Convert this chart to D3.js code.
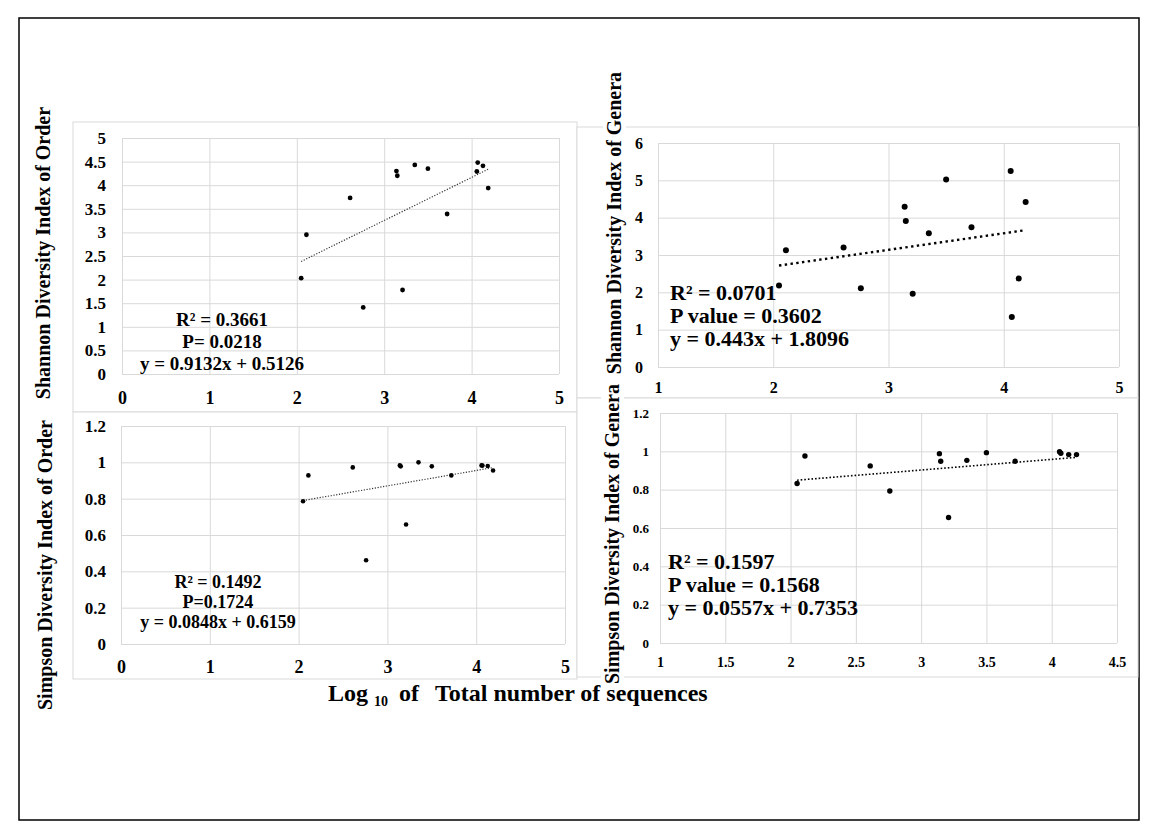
<!DOCTYPE html>
<html>
<head>
<meta charset="utf-8">
<style>
  body { margin: 0; background: #fff; }
  svg { display: block; font-family: "Liberation Serif", "Times New Roman", serif; }
  .grid line { stroke: #d9d9d9; stroke-width: 1; }
  .grid text { fill: #000; font-weight: bold; }
</style>
</head>
<body>
<div id="chart"></div>
<script src="https://d3js.org/d3.v7.min.js"></script>
<script>
// log10 of total number of sequences, one value per sample (shared by all four panels)
var logSeqs = [2.05, 2.11, 2.61, 2.76, 3.14, 3.15, 3.21, 3.35, 3.50, 3.72, 4.06, 4.07, 4.13, 4.19];

// diversity index of each sample, same order as logSeqs
var shannonOrder  = [2.03, 2.95, 3.73, 1.41, 4.30, 4.20, 1.78, 4.43, 4.35, 3.39, 4.29, 4.48, 4.41, 3.94];
var shannonGenera = [2.18, 3.13, 3.20, 2.11, 4.29, 3.91, 1.96, 3.58, 5.02, 3.74, 5.25, 1.34, 2.37, 4.42];
var simpsonOrder  = [0.786, 0.928, 0.972, 0.461, 0.983, 0.978, 0.658, 1.00, 0.978, 0.928, 0.983, 0.982, 0.980, 0.955];
var simpsonGenera = [0.832, 0.976, 0.924, 0.793, 0.988, 0.948, 0.655, 0.953, 0.993, 0.948, 0.998, 0.990, 0.983, 0.983];

// linear fits (slope, intercept) as printed on the chart
var fitSlopes     = [0.9132, 0.443, 0.0848, 0.0557];
var fitIntercepts = [0.5126, 1.8096, 0.6159, 0.7353];

var statsShannonOrder  = ["R\u00b2 = 0.3661", "P= 0.0218", "y = 0.9132x + 0.5126"];
var statsShannonGenera = ["R\u00b2 = 0.0701", "P value = 0.3602", "y = 0.443x + 1.8096"];
var statsSimpsonOrder  = ["R\u00b2 = 0.1492", "P=0.1724", "y = 0.0848x + 0.6159"];
var statsSimpsonGenera = ["R\u00b2 = 0.1597", "P value = 0.1568", "y = 0.0557x + 0.7353"];

// axis ticks
var xTicksA = [0, 1, 2, 3, 4, 5];
var xTicksB = [1, 2, 3, 4, 5];
var xTicksC = [1, 1.5, 2, 2.5, 3, 3.5, 4, 4.5];
var yTicksShannonOrder  = [0, 0.5, 1, 1.5, 2, 2.5, 3, 3.5, 4, 4.5, 5];
var yTicksShannonGenera = [0, 1, 2, 3, 4, 5, 6];
var yTicksSimpson       = [0, 0.2, 0.4, 0.6, 0.8, 1, 1.2];

var W = 1159, H = 838;

var svg = d3.select("#chart").append("svg")
    .attr("width", W)
    .attr("height", H);

svg.append("rect")
    .attr("x", 19).attr("y", 18)
    .attr("width", 1120).attr("height", 802)
    .attr("fill", "none").attr("stroke", "#000").attr("stroke-width", 1.5);

var panels = [
  { ys: shannonOrder, fit: 0, stats: statsShannonOrder, title: "Shannon Diversity Index of Order",
    box: [73, 122, 504, 290], plot: [122, 559, 138, 374],
    xDom: [0, 5], xTicks: xTicksA, yDom: [0, 5], yTicks: yTicksShannonOrder,
    xFont: 18, yFont: 17, xPad: 17, yPad: 16,
    r: 2.4, fitW: 1.2, fitDash: "1.2,1.6", fitColor: "#333",
    statFont: 19, statAnchor: "middle", statX: 222, statY: [319, 341, 363],
    titleX: 43, titleY: 253 },
  { ys: shannonGenera, fit: 1, stats: statsShannonGenera, title: "Shannon Diversity Index of Genera",
    box: [577, 127, 561, 271], plot: [658, 1119, 143, 367],
    xDom: [1, 5], xTicks: xTicksB, yDom: [0, 6], yTicks: yTicksShannonGenera,
    xFont: 16, yFont: 16, xPad: 15, yPad: 15,
    r: 3, fitW: 2.4, fitDash: "2.4,3.4", fitColor: "#000",
    statFont: 22, statAnchor: "start", statX: 670, statY: [292, 315, 338],
    titleX: 614, titleY: 223 },
  { ys: simpsonOrder, fit: 2, stats: statsSimpsonOrder, title: "Simpson Diversity Index of Order",
    box: [73, 412, 504, 267], plot: [121, 565, 426, 644],
    xDom: [0, 5], xTicks: xTicksA, yDom: [0, 1.2], yTicks: yTicksSimpson,
    xFont: 18, yFont: 17, xPad: 16, yPad: 15,
    r: 2.3, fitW: 1.2, fitDash: "1.2,1.6", fitColor: "#333",
    statFont: 18, statAnchor: "middle", statX: 218, statY: [582, 602, 622],
    titleX: 45, titleY: 565 },
  { ys: simpsonGenera, fit: 3, stats: statsSimpsonGenera, title: "Simpson Diversity Index of Genera",
    box: [577, 398, 561, 279], plot: [660, 1117, 413, 643],
    xDom: [1, 4.5], xTicks: xTicksC, yDom: [0, 1.2], yTicks: yTicksSimpson,
    xFont: 14, yFont: 13, xPad: 14, yPad: 11,
    r: 2.7, fitW: 1.6, fitDash: "1.6,2", fitColor: "#000",
    statFont: 22, statAnchor: "start", statX: 668, statY: [561, 584, 607],
    titleX: 612, titleY: 534 }
];

var fmt = function(v) { return String(v); };

// panel backgrounds first so later panels do not hide earlier marks
panels.forEach(function(p) {
  svg.append("rect")
      .attr("x", p.box[0]).attr("y", p.box[1])
      .attr("width", p.box[2]).attr("height", p.box[3])
      .attr("fill", "#fff").attr("stroke", "#d9d9d9").attr("stroke-width", 1);
});

panels.forEach(function(p) {
  var x = d3.scaleLinear().domain(p.xDom).range([p.plot[0], p.plot[1]]);
  var y = d3.scaleLinear().domain(p.yDom).range([p.plot[3], p.plot[2]]);
  var g = svg.append("g");

  // horizontal gridlines + y labels
  g.append("g")
      .attr("class", "grid")
      .attr("transform", "translate(" + p.plot[0] + ",0)")
      .call(d3.axisLeft(y).tickValues(p.yTicks).tickFormat(fmt)
        .tickSize(-(p.plot[1] - p.plot[0])).tickPadding(p.yPad))
      .call(function(s) { s.select(".domain").remove(); })
      .selectAll("text")
        .attr("font-size", p.yFont)
        .attr("font-family", "Liberation Serif");

  // vertical gridlines + x labels
  g.append("g")
      .attr("class", "grid")
      .attr("transform", "translate(0," + p.plot[3] + ")")
      .call(d3.axisBottom(x).tickValues(p.xTicks).tickFormat(fmt)
        .tickSize(-(p.plot[3] - p.plot[2])).tickPadding(p.xPad))
      .call(function(s) { s.select(".domain").remove(); })
      .selectAll("text")
        .attr("font-size", p.xFont)
        .attr("font-family", "Liberation Serif");

  // trend line over the data range
  var m = fitSlopes[p.fit], b = fitIntercepts[p.fit];
  var ext = d3.extent(logSeqs);
  g.append("line")
      .attr("x1", x(ext[0])).attr("y1", y(m * ext[0] + b))
      .attr("x2", x(ext[1])).attr("y2", y(m * ext[1] + b))
      .attr("stroke", p.fitColor)
      .attr("stroke-width", p.fitW)
      .attr("stroke-dasharray", p.fitDash);

  g.selectAll(".point")
      .data(p.ys)
    .enter().append("circle")
      .attr("class", "point")
      .attr("cx", function(d, i) { return x(logSeqs[i]); })
      .attr("cy", function(d) { return y(d); })
      .attr("r", p.r)
      .attr("fill", "#000");

  g.selectAll(".stat")
      .data(p.stats)
    .enter().append("text")
      .attr("class", "stat")
      .attr("x", p.statX)
      .attr("y", function(d, i) { return p.statY[i]; })
      .attr("dy", "0.35em")
      .attr("text-anchor", p.statAnchor)
      .attr("font-size", p.statFont)
      .attr("font-weight", "bold")
      .text(function(d) { return d; });
});

// y titles on top, with a white backing like the original text boxes
panels.forEach(function(p) {
  var t = svg.append("g")
      .attr("transform", "translate(" + p.titleX + "," + p.titleY + ") rotate(-90)");
  var txt = t.append("text")
      .attr("text-anchor", "middle")
      .attr("dy", "0.35em")
      .attr("font-size", 20)
      .attr("font-weight", "bold")
      .text(p.title);
  var bb = txt.node().getBBox();
  t.insert("rect", "text")
      .attr("x", bb.x - 2).attr("y", bb.y)
      .attr("width", bb.width + 4).attr("height", bb.height)
      .attr("fill", "#fff");
});

// shared x title
var xt = svg.append("text")
    .attr("y", 701)
    .attr("font-weight", "bold");
xt.append("tspan").attr("x", 328).attr("font-size", 24).text("Log");
xt.append("tspan").attr("x", 374).attr("dy", 5).attr("font-size", 14).text("10");
xt.append("tspan").attr("x", 399).attr("dy", -5).attr("font-size", 24).text("of");
xt.append("tspan").attr("x", 435).attr("font-size", 24).text("Total number of sequences");
</script>
</body>
</html>
